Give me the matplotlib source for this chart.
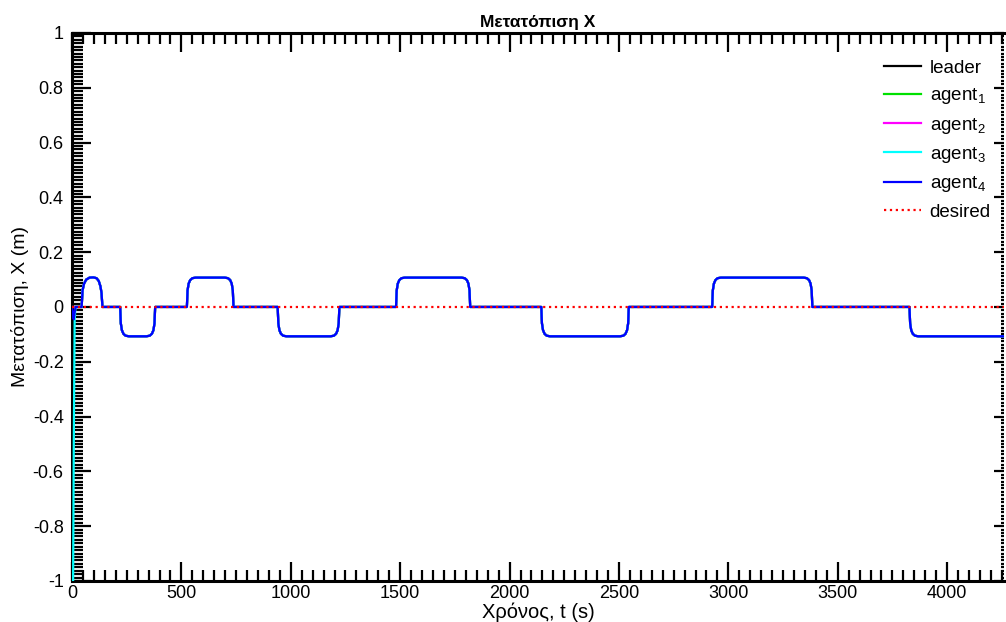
import numpy as np
import matplotlib
matplotlib.use("Agg")
import matplotlib.pyplot as plt
from matplotlib.ticker import MultipleLocator, FuncFormatter

plt.rcParams['font.family'] = ['Liberation Sans', 'DejaVu Sans']
plt.rcParams['mathtext.fontset'] = 'custom'
plt.rcParams['mathtext.rm'] = 'Liberation Sans'
plt.rcParams['mathtext.it'] = 'Liberation Sans:italic'
plt.rcParams['mathtext.default'] = 'regular'

# first seconds: every agent starts from its own position
tInit = [0, 5, 8, 12, 16]
leaderInit = [0.0, 0.0, 0.0, 0.0, 0.0]
agent1Init = [0.0, 0.0, 0.0, 0.0, 0.0]
agent2Init = [0.0, 0.0, 0.0, 0.0, 0.0]
agent3Init = [-1.3, -1.0, -0.5, -0.05, 0.0]
agent4Init = [0.0, -0.035, -0.045, -0.02, 0.0]

# common trajectory afterwards
tCommon = [20,
           44, 48, 55, 65, 80, 97, 112, 122, 130, 135, 139,
           220, 223, 228, 235, 245, 260, 340, 355, 365, 372, 377, 380,
           525, 528, 533, 540, 550, 565, 698, 713, 723, 730, 735, 738,
           940, 943, 948, 955, 965, 980, 1182, 1197, 1207, 1214, 1219, 1222,
           1481, 1484, 1489, 1496, 1506, 1521, 1780, 1795, 1805, 1812, 1817, 1820,
           2145, 2148, 2153, 2160, 2170, 2185, 2505, 2520, 2530, 2537, 2542, 2545,
           2926, 2929, 2934, 2941, 2951, 2966, 3344, 3359, 3369, 3376, 3381, 3384,
           3828, 3831, 3836, 3843, 3853, 3868, 4260]
xCommon = [0.0,
           0.0, 0.06, 0.085, 0.1, 0.107, 0.108, 0.105, 0.095, 0.075, 0.05, 0.0,
           0.0, -0.06, -0.085, -0.098, -0.105, -0.107, -0.107, -0.105, -0.098, -0.085, -0.06, 0.0,
           0.0, 0.06, 0.085, 0.098, 0.105, 0.107, 0.107, 0.105, 0.098, 0.085, 0.06, 0.0,
           0.0, -0.06, -0.085, -0.098, -0.105, -0.107, -0.107, -0.105, -0.098, -0.085, -0.06, 0.0,
           0.0, 0.06, 0.085, 0.098, 0.105, 0.107, 0.107, 0.105, 0.098, 0.085, 0.06, 0.0,
           0.0, -0.06, -0.085, -0.098, -0.105, -0.107, -0.107, -0.105, -0.098, -0.085, -0.06, 0.0,
           0.0, 0.06, 0.085, 0.098, 0.105, 0.107, 0.107, 0.105, 0.098, 0.085, 0.06, 0.0,
           0.0, -0.06, -0.085, -0.098, -0.105, -0.107, -0.107]

tDesired = [0, 4260]
xDesired = [0.0, 0.0]

t = tInit + tCommon
series = [
    ("leader", leaderInit, "black"),
    ("agent$_1$", agent1Init, "#00e000"),
    ("agent$_2$", agent2Init, "#ff00ff"),
    ("agent$_3$", agent3Init, "#00ffff"),
    ("agent$_4$", agent4Init, "#0000ff"),
]

fig = plt.figure(figsize=(10.06, 6.22), dpi=100)
ax = fig.add_axes([0.0716, 0.066, 0.9264, 0.881])

for name, init, col in series:
    ax.plot(t, init + xCommon, "-", color=col, lw=1.6, label=name, zorder=3)
ax.plot(tDesired, xDesired, ":", color="red", lw=1.6, label="desired", zorder=3)

ax.set_xlim(0, 4260)
ax.set_ylim(-1, 1)

ax.xaxis.set_major_locator(MultipleLocator(500))
ax.xaxis.set_minor_locator(MultipleLocator(50))
ax.yaxis.set_major_locator(MultipleLocator(0.2))
ax.yaxis.set_minor_locator(MultipleLocator(0.0125))
fmt = FuncFormatter(lambda v, p: "%g" % (round(v, 6) + 0.0))
ax.xaxis.set_major_formatter(fmt)
ax.yaxis.set_major_formatter(fmt)

ax.tick_params(which="both", direction="in", top=True, right=False, width=1.6,
               labelsize=13, colors="black")
ax.tick_params(which="major", length=14)
ax.tick_params(which="minor", length=8)
ax.tick_params(axis="x", pad=3)
ax.tick_params(axis="y", pad=6)

for side in ["left", "top", "bottom"]:
    ax.spines[side].set_linewidth(2.2)
ax.spines["right"].set_visible(False)

# right side ticks are short
sec = ax.secondary_yaxis("right")
sec.yaxis.set_major_locator(MultipleLocator(0.2))
sec.yaxis.set_minor_locator(MultipleLocator(0.0125))
sec.tick_params(which="both", direction="in", width=1.6, labelright=False)
sec.tick_params(which="major", length=7)
sec.tick_params(which="minor", length=2.5)
sec.spines["right"].set_visible(False)

ax.set_title("Μετατόπιση X", fontsize=12.5, fontweight="bold", pad=4)
ax.set_xlabel("Χρόνος, t (s)", fontsize=14.5, labelpad=0)
ax.set_ylabel("Μετατόπιση, X (m)", fontsize=14, labelpad=3)

ax.legend(loc="upper right", bbox_to_anchor=(1.0, 0.975), frameon=False,
          fontsize=13.5, handlelength=2.0, handletextpad=0.45, labelspacing=0.5,
          borderaxespad=0.3)

fig.savefig("out.png", dpi=100)
